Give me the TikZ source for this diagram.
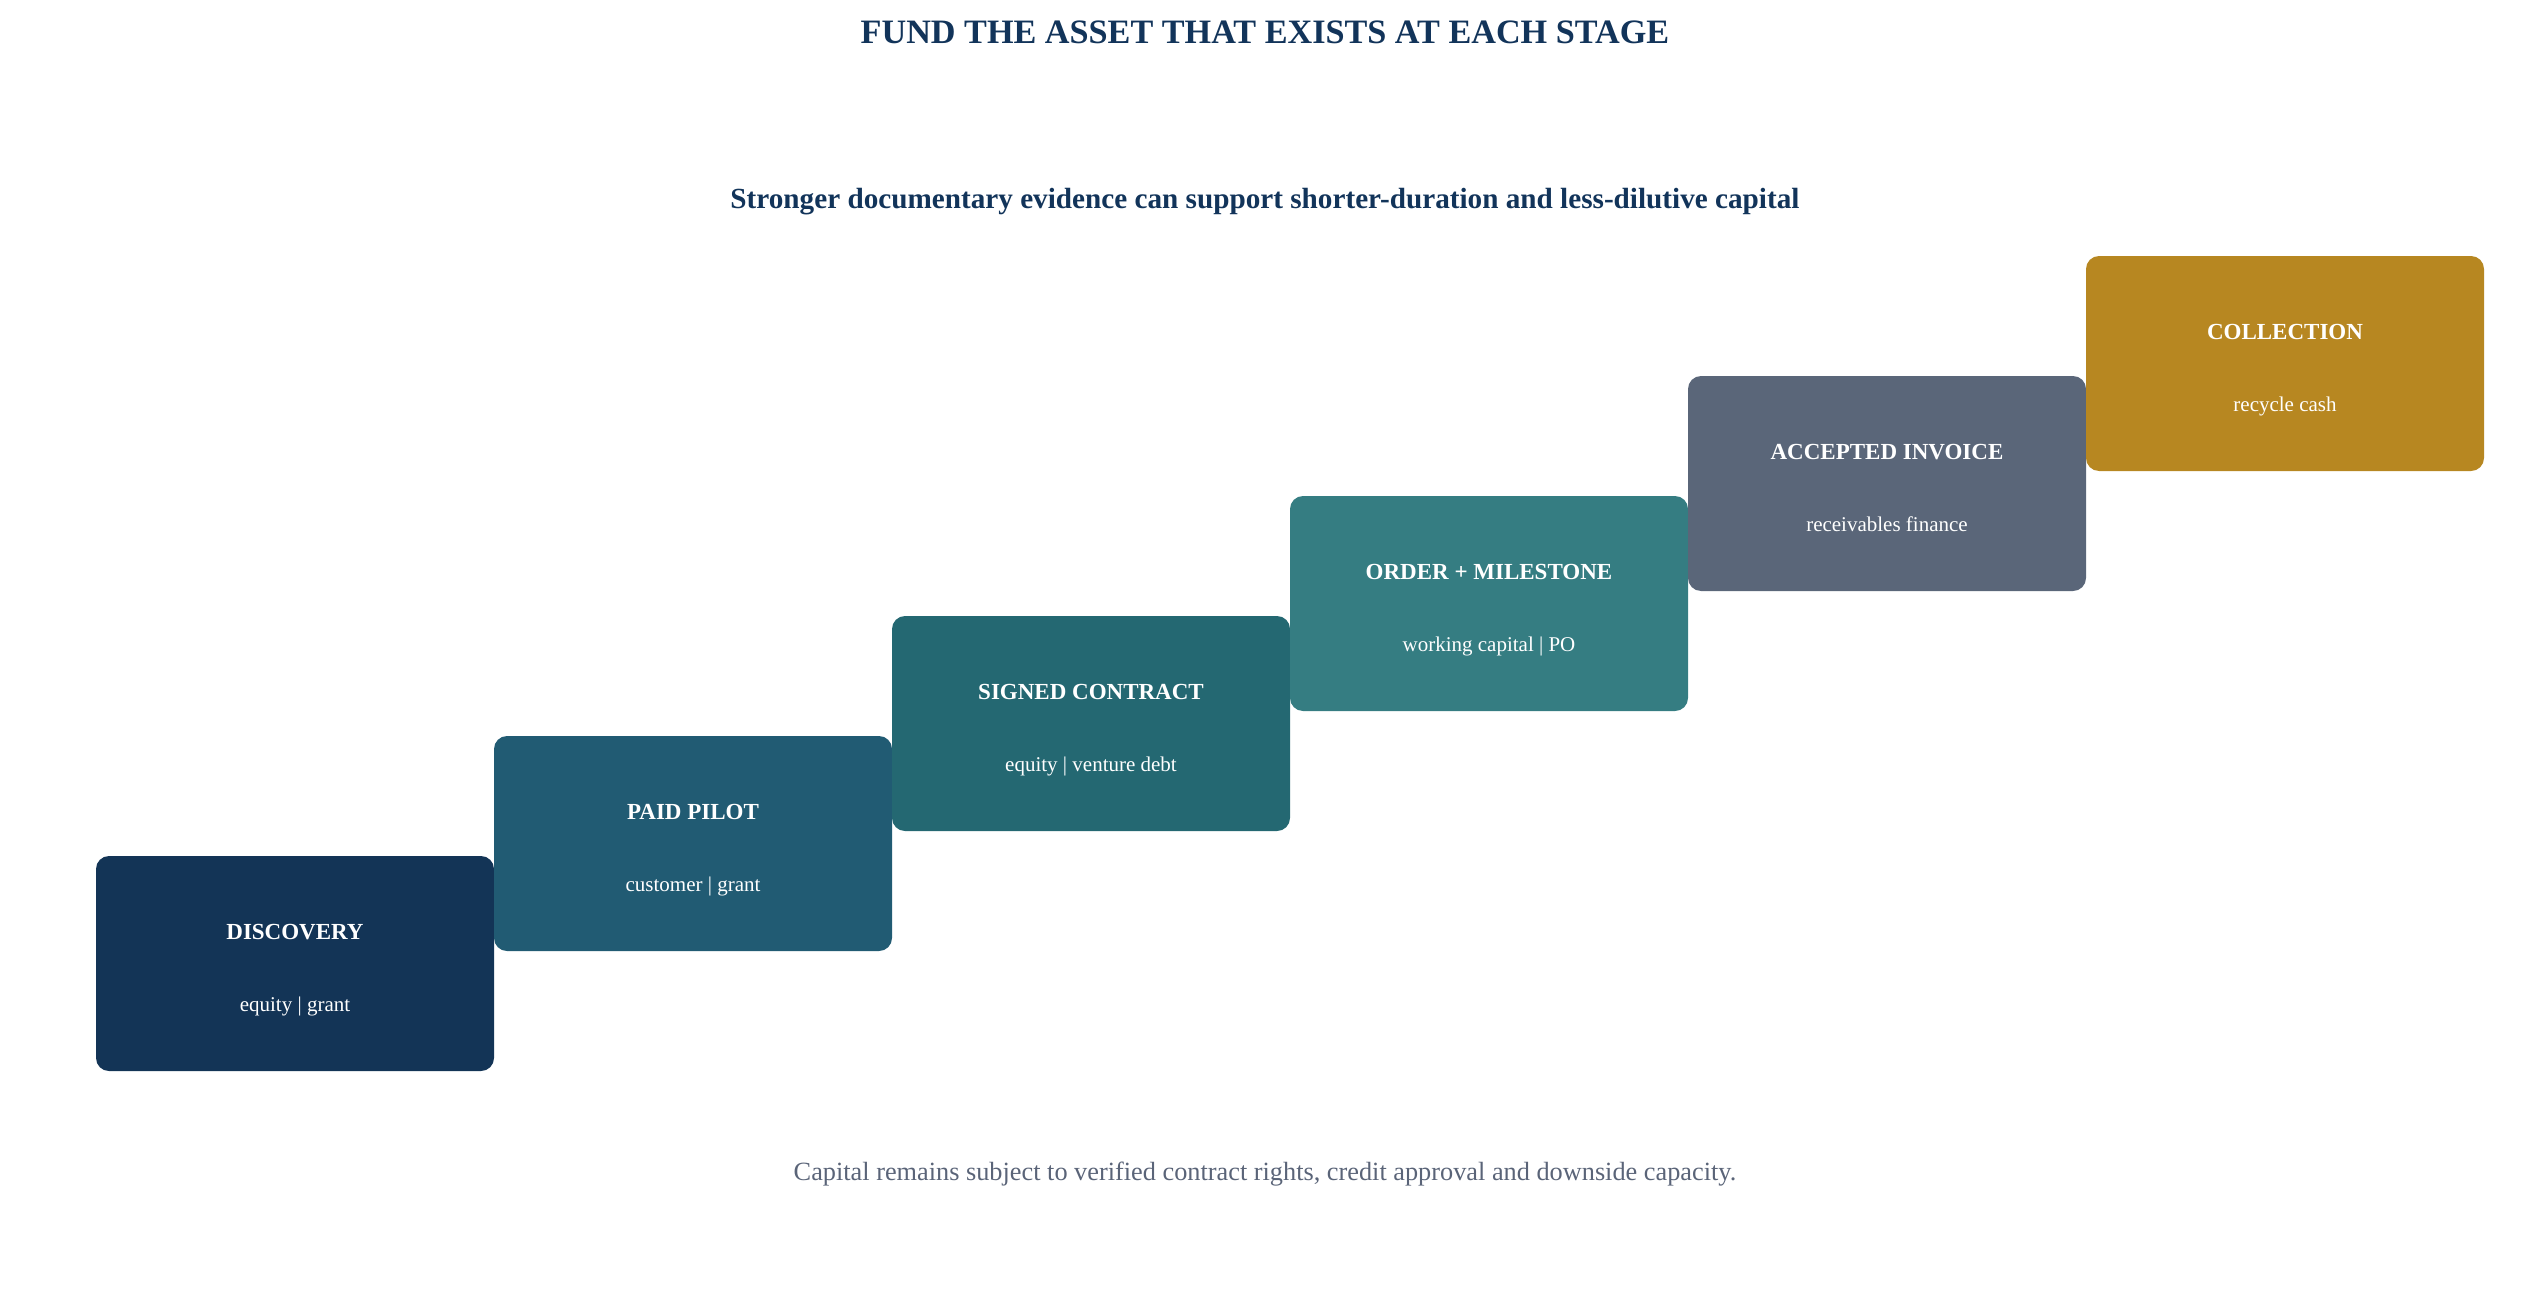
\documentclass[tikz,border=0pt]{standalone}
\usepackage{fontspec}
\setmainfont{Liberation Serif}
\usetikzlibrary{positioning}
\definecolor{inkblue}{HTML}{12345A}
\definecolor{notegrey}{HTML}{5A6478}
\definecolor{stageA}{HTML}{133456}
\definecolor{stageB}{HTML}{215B73}
\definecolor{stageC}{HTML}{246872}
\definecolor{stageD}{HTML}{357D82}
\definecolor{stageE}{HTML}{5A6679}
\definecolor{stageF}{HTML}{B78721}
\begin{document}
\begin{tikzpicture}[x=1pt,y=-1pt,
    stagebox/.style={rounded corners=13pt,minimum width=398pt,minimum height=215pt,inner sep=0pt},
    stagename/.style={anchor=base,text=white,font=\fontsize{23}{28}\selectfont\bfseries},
    stagefund/.style={anchor=base,text=white,font=\fontsize{21}{25}\selectfont}]
    \useasboundingbox (0,0) rectangle (2530,1298);
    \node[anchor=base,text=inkblue,font=\fontsize{34.2}{41}\selectfont\bfseries] (title) at (1265,44) {FUND THE ASSET THAT EXISTS AT EACH STAGE};
    \node[anchor=base,text=inkblue,font=\fontsize{29.2}{35}\selectfont\bfseries] (lead) at (1265,208) {Stronger documentary evidence can support shorter-duration and less-dilutive capital};
    % stairs of stages
    \node[stagebox,fill=stageA] (discovery) at (295,963.5) {};
    \node[stagebox,fill=stageB] (pilot) at (693,843.5) {};
    \node[stagebox,fill=stageC] (contract) at (1091,723.5) {};
    \node[stagebox,fill=stageD] (order) at (1489,603.5) {};
    \node[stagebox,fill=stageE] (invoice) at (1887,483.5) {};
    \node[stagebox,fill=stageF] (collection) at (2285,363.5) {};
    \node[stagename] (discovery-name) at ([yshift=24pt]discovery.center) {DISCOVERY};
    \node[stagefund] (discovery-fund) at ([yshift=-47.5pt]discovery.center) {equity | grant};
    \node[stagename] (pilot-name) at ([yshift=24pt]pilot.center) {PAID PILOT};
    \node[stagefund] (pilot-fund) at ([yshift=-47.5pt]pilot.center) {customer | grant};
    \node[stagename] (contract-name) at ([yshift=24pt]contract.center) {SIGNED CONTRACT};
    \node[stagefund] (contract-fund) at ([yshift=-47.5pt]contract.center) {equity | venture debt};
    \node[stagename] (order-name) at ([yshift=24pt]order.center) {ORDER + MILESTONE};
    \node[stagefund] (order-fund) at ([yshift=-47.5pt]order.center) {working capital | PO};
    \node[stagename] (invoice-name) at ([yshift=24pt]invoice.center) {ACCEPTED INVOICE};
    \node[stagefund] (invoice-fund) at ([yshift=-47.5pt]invoice.center) {receivables finance};
    \node[stagename] (collection-name) at ([yshift=24pt]collection.center) {COLLECTION};
    \node[stagefund] (collection-fund) at ([yshift=-47.5pt]collection.center) {recycle cash};
    \node[anchor=base,text=notegrey,font=\fontsize{26.3}{32}\selectfont] (note) at (1265,1180) {Capital remains subject to verified contract rights, credit approval and downside capacity.};
\end{tikzpicture}
\end{document}
